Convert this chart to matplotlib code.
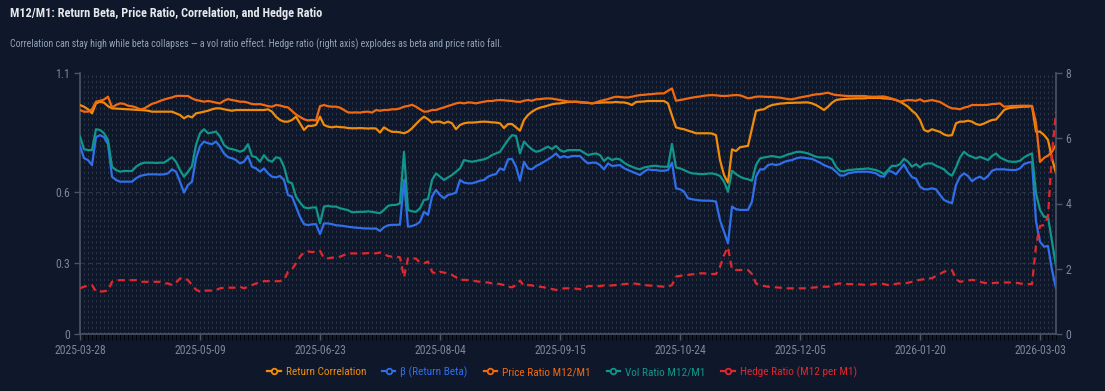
#!/usr/bin/env python3
# -*- coding: utf-8 -*-
"""
M12/M1: return beta, price ratio, correlation, hedge ratio.
Left axis: ratios / correlation; right axis: hedge ratio (M12 per M1).
"""

import matplotlib
matplotlib.use("Agg")
import matplotlib.pyplot as plt
from matplotlib.lines import Line2D

# x-axis tick labels (one label every 30 trading days)
DATE_LABELS = ["2025-03-28", "2025-05-09", "2025-06-23", "2025-08-04", "2025-09-15",
               "2025-10-24", "2025-12-05", "2026-01-20", "2026-03-03"]
LABEL_STEP = 30

# Return correlation
CORR = [
    0.965, 0.958, 0.947, 0.930, 0.972, 0.979, 0.975, 0.960, 0.951, 0.950,
    0.949, 0.948, 0.947, 0.946, 0.945, 0.944, 0.943, 0.941, 0.937, 0.937,
    0.937, 0.937, 0.937, 0.937, 0.930, 0.923, 0.909, 0.919, 0.913, 0.930,
    0.933, 0.937, 0.941, 0.947, 0.951, 0.951, 0.947, 0.944, 0.941, 0.944,
    0.944, 0.944, 0.944, 0.944, 0.944, 0.944, 0.944, 0.947, 0.937, 0.916,
    0.902, 0.895, 0.895, 0.902, 0.916, 0.888, 0.860, 0.877, 0.877, 0.881,
    0.916, 0.881, 0.874, 0.871, 0.874, 0.872, 0.871, 0.868, 0.867, 0.867,
    0.868, 0.867, 0.866, 0.867, 0.866, 0.849, 0.871, 0.860, 0.852, 0.852,
    0.850, 0.846, 0.853, 0.867, 0.885, 0.902, 0.916, 0.905, 0.891, 0.895,
    0.895, 0.888, 0.895, 0.888, 0.863, 0.881, 0.888, 0.891, 0.891, 0.892,
    0.894, 0.895, 0.894, 0.892, 0.891, 0.888, 0.868, 0.885, 0.885, 0.871,
    0.857, 0.902, 0.923, 0.937, 0.947, 0.954, 0.958, 0.963, 0.968, 0.971,
    0.972, 0.975, 0.978, 0.978, 0.979, 0.976, 0.975, 0.974, 0.972, 0.974,
    0.975, 0.976, 0.976, 0.976, 0.978, 0.976, 0.976, 0.972, 0.965, 0.978,
    0.979, 0.980, 0.982, 0.982, 0.982, 0.982, 0.982, 0.972, 0.920, 0.871,
    0.866, 0.863, 0.857, 0.852, 0.846, 0.846, 0.846, 0.846, 0.845, 0.838,
    0.733, 0.670, 0.638, 0.778, 0.771, 0.787, 0.790, 0.793, 0.867, 0.940,
    0.945, 0.947, 0.958, 0.965, 0.968, 0.971, 0.972, 0.974, 0.974, 0.975,
    0.975, 0.976, 0.976, 0.972, 0.965, 0.955, 0.944, 0.958, 0.975, 0.986,
    0.989, 0.990, 0.992, 0.992, 0.993, 0.993, 0.993, 0.995, 0.995, 0.995,
    0.995, 0.993, 0.992, 0.990, 0.986, 0.980, 0.969, 0.958, 0.941, 0.927,
    0.902, 0.860, 0.853, 0.863, 0.857, 0.852, 0.841, 0.836, 0.838, 0.888,
    0.895, 0.895, 0.899, 0.895, 0.885, 0.881, 0.887, 0.895, 0.902, 0.904,
    0.923, 0.944, 0.951, 0.954, 0.955, 0.957, 0.958, 0.958, 0.961, 0.853,
    0.853, 0.839, 0.818, 0.740, 0.677,
]

# Return beta
BETA = [
    0.792, 0.741, 0.733, 0.712, 0.830, 0.838, 0.830, 0.800, 0.663, 0.649,
    0.642, 0.642, 0.642, 0.642, 0.656, 0.666, 0.670, 0.673, 0.673, 0.673,
    0.672, 0.673, 0.677, 0.694, 0.684, 0.642, 0.596, 0.628, 0.642, 0.740,
    0.792, 0.811, 0.804, 0.800, 0.811, 0.790, 0.761, 0.745, 0.741, 0.733,
    0.719, 0.726, 0.750, 0.705, 0.698, 0.684, 0.698, 0.677, 0.663, 0.660,
    0.666, 0.649, 0.586, 0.579, 0.537, 0.494, 0.463, 0.459, 0.462, 0.463,
    0.421, 0.466, 0.466, 0.463, 0.458, 0.457, 0.455, 0.452, 0.450, 0.448,
    0.447, 0.445, 0.445, 0.444, 0.445, 0.434, 0.450, 0.458, 0.460, 0.460,
    0.461, 0.649, 0.452, 0.455, 0.461, 0.473, 0.515, 0.502, 0.579, 0.607,
    0.586, 0.572, 0.586, 0.590, 0.596, 0.649, 0.638, 0.635, 0.635, 0.640,
    0.646, 0.649, 0.663, 0.670, 0.674, 0.698, 0.691, 0.736, 0.738, 0.705,
    0.646, 0.726, 0.698, 0.694, 0.708, 0.716, 0.726, 0.736, 0.747, 0.761,
    0.743, 0.750, 0.744, 0.750, 0.750, 0.750, 0.733, 0.719, 0.722, 0.722,
    0.712, 0.694, 0.719, 0.708, 0.710, 0.712, 0.699, 0.691, 0.684, 0.677,
    0.670, 0.684, 0.694, 0.691, 0.691, 0.688, 0.688, 0.691, 0.722, 0.614,
    0.610, 0.600, 0.572, 0.568, 0.565, 0.563, 0.562, 0.562, 0.561, 0.558,
    0.480, 0.431, 0.382, 0.537, 0.526, 0.523, 0.523, 0.523, 0.558, 0.663,
    0.694, 0.694, 0.712, 0.716, 0.712, 0.716, 0.725, 0.730, 0.733, 0.740,
    0.744, 0.743, 0.740, 0.738, 0.730, 0.722, 0.712, 0.705, 0.699, 0.684,
    0.668, 0.668, 0.677, 0.680, 0.683, 0.684, 0.684, 0.684, 0.681, 0.677,
    0.666, 0.663, 0.688, 0.684, 0.673, 0.694, 0.715, 0.684, 0.661, 0.655,
    0.621, 0.610, 0.610, 0.614, 0.610, 0.586, 0.565, 0.557, 0.551, 0.628,
    0.663, 0.677, 0.666, 0.644, 0.656, 0.663, 0.652, 0.666, 0.688, 0.694,
    0.694, 0.694, 0.692, 0.691, 0.691, 0.698, 0.716, 0.722, 0.725, 0.475,
    0.389, 0.368, 0.371, 0.270, 0.192,
]

# Price ratio M12/M1
PRICE_RATIO = [
    0.944, 0.937, 0.937, 0.947, 0.979, 0.983, 0.988, 1.000, 0.955, 0.965,
    0.972, 0.970, 0.962, 0.960, 0.955, 0.947, 0.950, 0.960, 0.970, 0.975,
    0.982, 0.988, 0.993, 0.997, 1.003, 1.004, 1.003, 1.003, 0.993, 0.986,
    0.983, 0.979, 0.982, 0.979, 0.975, 0.972, 0.983, 0.990, 0.986, 0.983,
    0.979, 0.979, 0.975, 0.969, 0.968, 0.969, 0.965, 0.960, 0.958, 0.965,
    0.963, 0.958, 0.955, 0.940, 0.925, 0.915, 0.905, 0.900, 0.902, 0.900,
    0.960, 0.965, 0.960, 0.958, 0.958, 0.954, 0.944, 0.934, 0.933, 0.934,
    0.933, 0.936, 0.937, 0.933, 0.944, 0.941, 0.944, 0.944, 0.947, 0.947,
    0.951, 0.958, 0.961, 0.966, 0.958, 0.947, 0.937, 0.938, 0.944, 0.944,
    0.950, 0.955, 0.961, 0.966, 0.972, 0.975, 0.972, 0.976, 0.975, 0.972,
    0.976, 0.979, 0.982, 0.982, 0.985, 0.986, 0.985, 0.983, 0.982, 0.979,
    0.978, 0.983, 0.986, 0.983, 0.989, 0.990, 0.992, 0.993, 0.992, 0.989,
    0.986, 0.983, 0.980, 0.979, 0.979, 0.978, 0.976, 0.975, 0.972, 0.976,
    0.982, 0.986, 0.990, 0.996, 1.000, 0.999, 0.997, 0.997, 1.000, 1.004,
    1.007, 1.008, 1.010, 1.011, 1.013, 1.014, 1.014, 1.025, 1.035, 0.983,
    0.986, 0.989, 0.993, 0.996, 0.999, 1.001, 1.004, 1.006, 1.007, 1.006,
    1.004, 1.003, 1.004, 1.006, 1.007, 1.006, 1.000, 0.993, 0.996, 1.000,
    1.001, 1.000, 0.999, 0.999, 0.997, 0.996, 0.993, 0.990, 0.989, 0.993,
    0.997, 1.000, 1.003, 1.007, 1.010, 1.011, 1.014, 1.017, 1.011, 1.007,
    1.006, 1.004, 1.003, 1.003, 1.003, 1.003, 1.003, 1.001, 1.000, 1.000,
    1.001, 1.001, 0.997, 0.992, 0.986, 0.979, 0.983, 0.986, 0.985, 0.983,
    0.989, 0.980, 0.983, 0.986, 0.982, 0.978, 0.968, 0.958, 0.951, 0.950,
    0.947, 0.954, 0.958, 0.965, 0.965, 0.965, 0.965, 0.966, 0.969, 0.970,
    0.972, 0.958, 0.959, 0.961, 0.961, 0.962, 0.962, 0.962, 0.961, 0.890,
    0.725, 0.742, 0.752, 0.768, 0.797,
]

# Vol ratio M12/M1
VOL_RATIO = [
    0.832, 0.779, 0.775, 0.775, 0.863, 0.860, 0.846, 0.818, 0.705, 0.691,
    0.684, 0.687, 0.687, 0.687, 0.705, 0.716, 0.722, 0.722, 0.722, 0.721,
    0.722, 0.722, 0.733, 0.745, 0.726, 0.691, 0.663, 0.684, 0.708, 0.797,
    0.846, 0.863, 0.846, 0.849, 0.853, 0.832, 0.797, 0.783, 0.779, 0.775,
    0.768, 0.775, 0.800, 0.750, 0.745, 0.726, 0.754, 0.733, 0.726, 0.745,
    0.741, 0.705, 0.642, 0.635, 0.579, 0.554, 0.534, 0.530, 0.533, 0.534,
    0.466, 0.537, 0.540, 0.537, 0.537, 0.530, 0.526, 0.522, 0.513, 0.514,
    0.515, 0.515, 0.517, 0.515, 0.512, 0.509, 0.523, 0.540, 0.544, 0.544,
    0.551, 0.768, 0.523, 0.517, 0.515, 0.530, 0.565, 0.568, 0.649, 0.677,
    0.663, 0.649, 0.660, 0.670, 0.684, 0.698, 0.733, 0.729, 0.726, 0.729,
    0.733, 0.736, 0.743, 0.754, 0.761, 0.768, 0.793, 0.818, 0.838, 0.835,
    0.761, 0.811, 0.793, 0.778, 0.768, 0.772, 0.781, 0.790, 0.779, 0.793,
    0.775, 0.768, 0.775, 0.775, 0.775, 0.775, 0.764, 0.754, 0.758, 0.761,
    0.754, 0.729, 0.744, 0.733, 0.739, 0.736, 0.722, 0.712, 0.705, 0.698,
    0.694, 0.702, 0.705, 0.708, 0.709, 0.706, 0.705, 0.705, 0.801, 0.702,
    0.698, 0.691, 0.683, 0.677, 0.676, 0.674, 0.674, 0.676, 0.677, 0.673,
    0.666, 0.642, 0.600, 0.688, 0.674, 0.663, 0.656, 0.652, 0.646, 0.712,
    0.740, 0.744, 0.747, 0.750, 0.747, 0.744, 0.750, 0.757, 0.761, 0.767,
    0.768, 0.765, 0.761, 0.754, 0.747, 0.744, 0.744, 0.744, 0.736, 0.705,
    0.687, 0.685, 0.691, 0.692, 0.694, 0.695, 0.696, 0.698, 0.694, 0.691,
    0.684, 0.674, 0.691, 0.709, 0.708, 0.716, 0.739, 0.726, 0.705, 0.716,
    0.702, 0.716, 0.719, 0.719, 0.709, 0.702, 0.694, 0.677, 0.667, 0.702,
    0.744, 0.768, 0.754, 0.747, 0.740, 0.747, 0.740, 0.733, 0.750, 0.761,
    0.744, 0.736, 0.728, 0.726, 0.726, 0.730, 0.744, 0.754, 0.761, 0.593,
    0.523, 0.494, 0.494, 0.389, 0.287,
]

# Hedge ratio (M12 per M1), right axis
HEDGE_RATIO = [
    1.40, 1.45, 1.48, 1.50, 1.30, 1.30, 1.31, 1.33, 1.60, 1.65,
    1.65, 1.65, 1.65, 1.65, 1.65, 1.60, 1.60, 1.60, 1.60, 1.60,
    1.60, 1.55, 1.55, 1.50, 1.58, 1.70, 1.72, 1.65, 1.50, 1.36,
    1.30, 1.33, 1.33, 1.33, 1.35, 1.40, 1.42, 1.42, 1.42, 1.42,
    1.45, 1.40, 1.45, 1.50, 1.55, 1.57, 1.62, 1.62, 1.62, 1.62,
    1.62, 1.65, 1.91, 1.98, 2.17, 2.37, 2.50, 2.53, 2.51, 2.53,
    2.55, 2.32, 2.32, 2.34, 2.35, 2.37, 2.42, 2.47, 2.47, 2.47,
    2.47, 2.47, 2.48, 2.48, 2.47, 2.50, 2.45, 2.39, 2.37, 2.37,
    2.35, 1.74, 2.32, 2.32, 2.31, 2.19, 2.17, 2.22, 1.91, 1.84,
    1.91, 1.88, 1.86, 1.81, 1.74, 1.66, 1.66, 1.65, 1.64, 1.62,
    1.60, 1.58, 1.58, 1.55, 1.55, 1.53, 1.50, 1.45, 1.43, 1.50,
    1.64, 1.47, 1.50, 1.49, 1.45, 1.45, 1.43, 1.40, 1.38, 1.35,
    1.38, 1.40, 1.40, 1.40, 1.39, 1.37, 1.40, 1.47, 1.47, 1.47,
    1.47, 1.49, 1.48, 1.49, 1.50, 1.51, 1.53, 1.54, 1.55, 1.54,
    1.52, 1.50, 1.49, 1.48, 1.47, 1.46, 1.45, 1.45, 1.50, 1.76,
    1.78, 1.80, 1.81, 1.83, 1.84, 1.86, 1.86, 1.85, 1.84, 1.84,
    2.06, 2.42, 2.66, 1.98, 1.96, 1.96, 1.96, 1.96, 1.84, 1.55,
    1.49, 1.47, 1.45, 1.44, 1.43, 1.42, 1.41, 1.40, 1.40, 1.40,
    1.40, 1.40, 1.41, 1.42, 1.43, 1.44, 1.45, 1.45, 1.48, 1.53,
    1.55, 1.54, 1.53, 1.53, 1.53, 1.52, 1.51, 1.50, 1.52, 1.54,
    1.55, 1.53, 1.50, 1.50, 1.54, 1.55, 1.55, 1.57, 1.60, 1.64,
    1.66, 1.68, 1.70, 1.71, 1.78, 1.84, 1.91, 1.94, 1.96, 1.68,
    1.60, 1.62, 1.64, 1.66, 1.64, 1.60, 1.57, 1.55, 1.56, 1.57,
    1.57, 1.58, 1.58, 1.58, 1.57, 1.55, 1.53, 1.53, 1.53, 2.70,
    3.31, 3.34, 3.60, 5.55, 6.81,
]

LEFT_TICKS = [0, 0.3, 0.6, 1.1]
RIGHT_TICKS = [0, 2, 4, 6, 8]

BG = "#0f172a"
AXIS_COLOR = "#4b5563"
TICK_TEXT = "#7b8698"
GRID_COLOR = "#2a3547"

# narrow sans for everything (the chart's text is condensed)
plt.rcParams["font.family"] = ["Roboto Condensed", "DejaVu Sans"]
plt.rcParams["font.stretch"] = "condensed"


def main():
    n = len(BETA)
    x = list(range(n))

    W, H = 1105, 391
    fig = plt.figure(figsize=(W / 100, H / 100), dpi=100, facecolor=BG)
    left, right, top, bottom = 80, 1056, 73, 334
    ax = fig.add_axes([left / W, 1 - bottom / H, (right - left) / W, (bottom - top) / H])
    ax.set_facecolor(BG)
    ax2 = ax.twinx()

    # dashed grid: one vertical line per day, horizontals at left ticks
    for i in x:
        ax.axvline(i, color=GRID_COLOR, lw=0.7, ls=(0, (2.5, 3.0)), zorder=0)
    for v in LEFT_TICKS[1:3]:
        ax.axhline(v, color=GRID_COLOR, lw=0.8, ls=(0, (4, 3)), zorder=0)

    series = [
        (CORR, "#f08c0a", "Return Correlation"),
        (BETA, "#2f6fec", "β (Return Beta)"),
        (PRICE_RATIO, "#f26a10", "Price Ratio M12/M1"),
        (VOL_RATIO, "#10968a", "Vol Ratio M12/M1"),
    ]
    for vals, col, lab in series:
        ax.plot(x, vals, color=col, lw=1.6, zorder=3, solid_joinstyle="round")
    ax2.plot(x, HEDGE_RATIO, color="#e0282e", lw=1.6, ls=(0, (3.2, 2.2)), zorder=3)

    ax.set_xlim(0, n - 1)
    ax.set_ylim(0, 1.1)
    ax2.set_ylim(0, 8)

    ax.set_yticks(LEFT_TICKS)
    ax.set_yticklabels(["0", "0.3", "0.6", "1.1"])
    ax2.set_yticks(RIGHT_TICKS)
    ax2.set_yticklabels([str(t) for t in RIGHT_TICKS])

    ax.set_xticks(list(range(0, n, LABEL_STEP)))
    ax.set_xticklabels(DATE_LABELS)
    ax.set_xticks(x, minor=True)

    for a in (ax, ax2):
        for s in a.spines.values():
            s.set_visible(False)
        a.tick_params(colors=AXIS_COLOR, labelcolor=TICK_TEXT, labelsize=8.5, width=1.0)
    ax.spines["left"].set_visible(True)
    ax.spines["bottom"].set_visible(True)
    ax2.spines["right"].set_visible(True)
    for s in (ax.spines["left"], ax.spines["bottom"], ax2.spines["right"]):
        s.set_color(AXIS_COLOR)
        s.set_linewidth(1.2)
    ax.tick_params(axis="x", which="both", length=4, pad=3)
    ax.tick_params(axis="y", length=4, pad=3)
    ax2.tick_params(axis="y", length=4, pad=3)

    fig.text(10 / W, 1 - 14 / H, "M12/M1: Return Beta, Price Ratio, Correlation, and Hedge Ratio",
             color="#e5e7eb", fontsize=8.8, fontweight="bold", va="center", ha="left")
    fig.text(10 / W, 1 - 44 / H,
             "Correlation can stay high while beta collapses \u2014 a vol ratio effect. "
             "Hedge ratio (right axis) explodes as beta and price ratio fall.",
             color="#94a3b8", fontsize=7.1, va="center", ha="left")

    handles = [Line2D([], [], color=c, lw=1.6, marker="o", markersize=4,
                      markerfacecolor=BG, markeredgewidth=1.3, label=l) for _, c, l in series]
    handles.append(Line2D([], [], color="#e0282e", lw=1.6, marker="o", markersize=4,
                          markerfacecolor=BG, markeredgewidth=1.3, label="Hedge Ratio (M12 per M1)"))
    fig.legend(handles=handles, loc="center", bbox_to_anchor=(562 / W, 1 - 372 / H), ncol=5,
               frameon=False, fontsize=8.1, labelcolor="linecolor", handlelength=1.2,
               handletextpad=0.45, columnspacing=1.4)

    fig.savefig("out.png", dpi=100, facecolor=BG)
    plt.close(fig)
    return 0


if __name__ == "__main__":
    main()
